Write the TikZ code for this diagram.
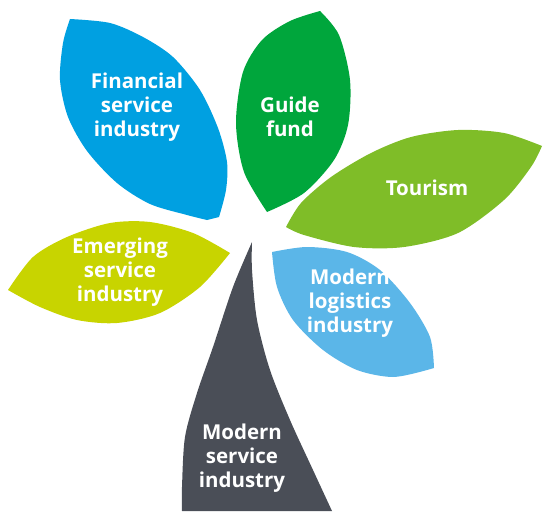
\documentclass[tikz,border=0pt]{standalone}
\usepackage{fontspec}
\setmainfont{Open Sans}
\definecolor{finblue}{RGB}{0,160,225}
\definecolor{guidegreen}{RGB}{0,166,60}
\definecolor{tourgreen}{RGB}{127,189,40}
\definecolor{logblue}{RGB}{91,182,232}
\definecolor{emerglime}{RGB}{200,212,0}
\definecolor{stemgray}{RGB}{74,78,87}
\begin{document}
\begin{tikzpicture}[x=1pt,y=-1pt,
  lbl/.style={text=white,font=\bfseries\fontsize{20.5}{23.8}\selectfont,align=center,inner sep=0pt}]
\useasboundingbox (0,0) rectangle (543,511);
% stem
\fill[stemgray] plot[smooth] coordinates {(252,242) (233,287) (213,347) (197,393) (185,437) (182,487) (182,511)}
  -- plot[smooth] coordinates {(332,511) (313,470) (290,420) (270,370) (257,320) (252,270) (252,242)} -- cycle;
% financial
\fill[finblue] plot[smooth] coordinates {(70,19) (110,23) (143,37) (173,57) (200,90) (218,128) (227,162) (226,190) (219,217)}
  -- plot[smooth] coordinates {(207,220) (187,215) (150,204) (117,183) (87,151) (68,117) (60,80) (63,43) (70,19)} -- cycle;
% guide fund
\fill[guidegreen] plot[smooth] coordinates {(320,11) (339,35) (350,80) (348,125) (334,160) (304,193) (267,212)}
  -- plot[smooth] coordinates {(267,212) (244,172) (236,123) (243,72) (262,40) (290,21) (320,11)} -- cycle;
% tourism
\fill[tourgreen] plot[smooth] coordinates {(286,227) (301,203) (331,177) (371,153) (411,137) (458,130) (504,133) (542,146)}
  -- plot[smooth] coordinates {(542,146) (531,167) (504,200) (458,233) (404,247) (354,247) (304,235) (286,227)} -- cycle;
% logistics
\fill[logblue] plot[smooth] coordinates {(272,252) (307,247) (347,252) (380,270) (410,303) (430,337) (434,368)}
  -- plot[smooth] coordinates {(427,370) (393,377) (357,370) (323,350) (293,320) (277,287) (272,252)} -- cycle;
% emerging
\fill[emerglime] plot[smooth] coordinates {(8,290) (33,257) (67,237) (110,223) (150,222) (193,233) (230,253)}
  -- plot[smooth] coordinates {(230,253) (200,287) (160,313) (117,323) (77,320) (40,307) (8,290)} -- cycle;
% labels
\node[lbl] (fin) at (137,107) {Financial\\service\\industry};
\node[lbl] (guide) at (290,117) {Guide\\fund};
\node[lbl] (tour) at (427,188) {Tourism};
\node[lbl] (log) at (350,303) {Modern\\logistics\\industry};
\node[lbl] (emer) at (120,272) {Emerging\\service\\industry};
\node[lbl] (mod) at (242,458) {Modern\\service\\industry};
\end{tikzpicture}
\end{document}
